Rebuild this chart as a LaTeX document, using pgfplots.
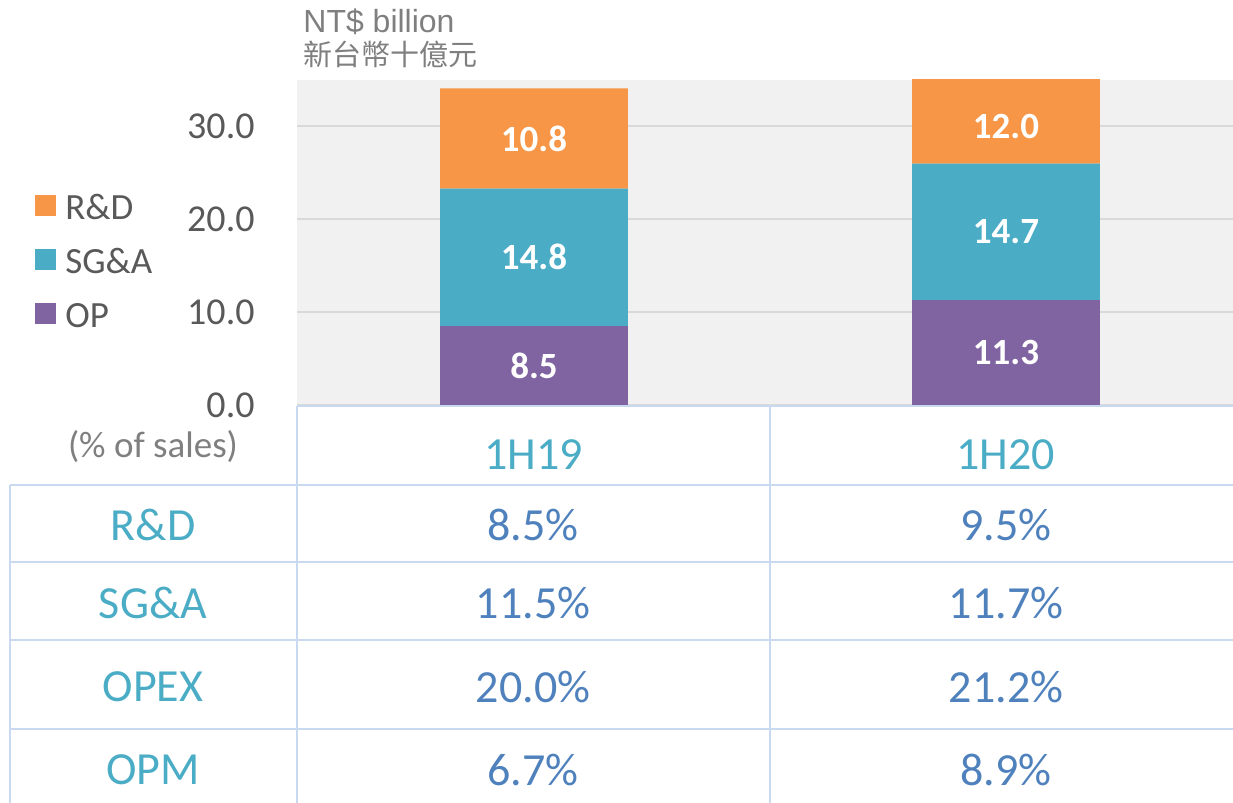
\documentclass[border=0pt]{standalone}
\usepackage{pgfplots}
\pgfplotsset{compat=1.18}
\usepackage{pgfplotstable}
\usepackage{fontspec}
\setmainfont{Carlito}
\newfontfamily\arialfont{Liberation Sans}
\newfontfamily\cjk{Noto Sans CJK TC}
\definecolor{cRD}{HTML}{F79646}
\definecolor{cSGA}{HTML}{4BACC6}
\definecolor{cOP}{HTML}{8064A2}
\definecolor{cVal}{HTML}{4F81BD}
\definecolor{cTxt}{HTML}{595959}
\definecolor{cGrey}{HTML}{7F7F7F}
\definecolor{cGrid}{HTML}{D9D9D9}
\definecolor{cBg}{HTML}{F1F1F1}
\definecolor{cLine}{HTML}{C9DAF0}

\pgfplotstableread{
x OP SGA RD
0 8.5 14.8 10.8
1 11.3 14.7 12.0
}\costs

\begin{document}
\begin{tikzpicture}
\useasboundingbox (0,0) rectangle (616.5pt,401.5pt);
\pgfplotsset{myaxis/.style={scale only axis, width=468pt, height=162.5pt,
  at={(148.5pt,199pt)}, anchor=south west,
  xmin=-0.502, xmax=1.481, ymin=0, ymax=35}}
\begin{axis}[myaxis, ybar stacked, bar width=0.398,
  axis background/.style={fill=cBg},
  axis line style={draw=none},
  tick style={draw=none},
  ymajorgrids, grid style={cGrid, line width=1pt},
  ytick={0,10,20,30},
  yticklabel style={anchor=east, inner sep=0pt, xshift=-21pt, text=cTxt,
    font=\fontsize{19}{22}\selectfont,
    /pgf/number format/.cd, fixed, fixed zerofill, precision=1, assume math mode=true},
  xtick={0,1}, xticklabels={1H19,1H20},
  xticklabel style={anchor=center, yshift=-25pt, text=cSGA, font=\fontsize{23}{27}\selectfont},
  reverse legend,
  legend cell align=left,
  legend style={at={(-0.28,0.6535)}, anchor=north west, draw=none, fill=none,
    inner sep=0pt, row sep=14pt, text=cTxt, font=\fontsize{18.5}{22}\selectfont,
    nodes={inner sep=0pt, text height=13pt, text depth=0pt}},
]
\addplot[fill=cOP, draw=none, legend image code/.code={\fill[cOP] (0pt,-5pt) rectangle (10.5pt,5.5pt); \path (15pt,0pt);}] table[x=x, y=OP]{\costs};
\addplot[fill=cSGA, draw=none, legend image code/.code={\fill[cSGA] (0pt,-5pt) rectangle (10.5pt,5.5pt); \path (15pt,0pt);}] table[x=x, y=SGA]{\costs};
\addplot[fill=cRD, draw=none, legend image code/.code={\fill[cRD] (0pt,-5pt) rectangle (10.5pt,5.5pt); \path (15pt,0pt);}] table[x=x, y=RD]{\costs};
\legend{OP, SG\&A, R\&D}
\end{axis}

\begin{axis}[myaxis, hide axis, clip=false, point meta=explicit,
  nodes near coords={\pgfmathprintnumber[fixed, fixed zerofill, precision=1, assume math mode=true]{\pgfplotspointmeta}},
  every node near coord/.append style={anchor=center, text=white, font=\bfseries\fontsize{18.5}{22}\selectfont}]
\addplot[only marks, mark=none] table[x=x, y expr={\thisrow{OP}/2}, meta=OP]{\costs};
\addplot[only marks, mark=none] table[x=x, y expr={\thisrow{OP}+\thisrow{SGA}/2}, meta=SGA]{\costs};
\addplot[only marks, mark=none] table[x=x, y expr={min(\thisrow{OP}+\thisrow{SGA}+\thisrow{RD}/2, (\thisrow{OP}+\thisrow{SGA}+34)/2)}, meta=RD]{\costs};
\end{axis}

\begin{scope}[x=0.5pt, y=-0.5pt, yshift=401.5pt]
  \begin{scope}[cLine, line width=1pt]
    \draw (297,406) -- (1233,406);
    \draw (10,485) -- (1233,485);
    \draw (10,562) -- (1233,562);
    \draw (10,640) -- (1233,640);
    \draw (10,729) -- (1233,729);
    \draw (297,406) -- (297,803);
    \draw (770,406) -- (770,803);
    \draw (10,485) -- (10,803);
  \end{scope}
  \node[anchor=base west, inner sep=0pt, text=cGrey, font=\arialfont\fontsize{16}{19}\selectfont] at (303,33) {NT\$ billion};
  \node[anchor=base west, inner sep=0pt, text=cGrey, font=\cjk\fontsize{14.5}{17}\selectfont] at (303,66) {新台幣十億元};
  \node[inner sep=0pt, text=cGrey, font=\fontsize{18.5}{22}\selectfont] at (153,447) {(\% of sales)};
  \begin{scope}[every node/.style={inner sep=0pt, font=\fontsize{23}{27}\selectfont}]
    \node[text=cSGA] at (153,525) {R\&D};
    \node[text=cSGA] at (153,603) {SG\&A};
    \node[text=cSGA] at (153,687) {OPEX};
    \node[text=cSGA] at (153,770) {OPM};
    \node[text=cVal] at (533,525) {8.5\%};
    \node[text=cVal] at (1006,525) {9.5\%};
    \node[text=cVal] at (533,603) {11.5\%};
    \node[text=cVal] at (1006,603) {11.7\%};
    \node[text=cVal] at (533,687) {20.0\%};
    \node[text=cVal] at (1006,687) {21.2\%};
    \node[text=cVal] at (533,770) {6.7\%};
    \node[text=cVal] at (1006,770) {8.9\%};
  \end{scope}
\end{scope}
\end{tikzpicture}
\end{document}
